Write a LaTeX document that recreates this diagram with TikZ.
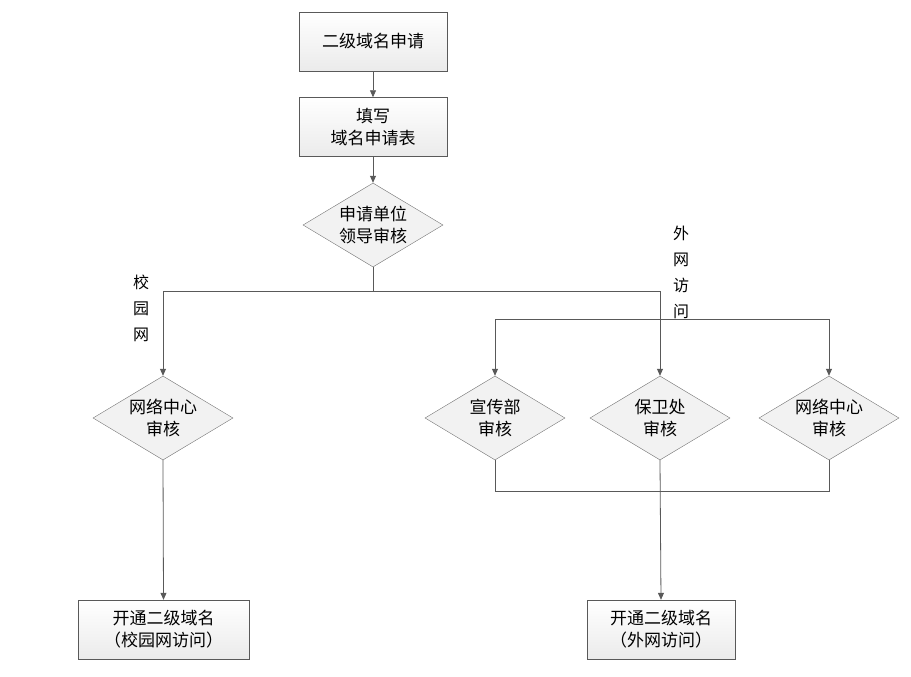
\documentclass[tikz,border=0pt]{standalone}
\usepackage{fontspec}
\setmainfont{Noto Sans CJK SC}
\usetikzlibrary{shapes.geometric,arrows.meta}
\begin{document}
\begin{tikzpicture}[x=1pt,y=-1pt,
 box/.style={draw=black!65,top color=white,bottom color=black!8,minimum width=148pt,minimum height=59pt,align=center,font=\fontsize{17}{22}\selectfont,inner sep=0pt},
 dia/.style={diamond,draw=black!55,fill=black!5,minimum width=140pt,minimum height=84pt,align=center,font=\fontsize{17}{22}\selectfont,inner sep=0pt,aspect=1.67},
 ln/.style={draw=black!65,line width=0.8pt},
 ar/.style={ln,-{Triangle[length=7pt,width=6pt]}},
 lab/.style={align=center,font=\fontsize{16}{26}\selectfont}]
\useasboundingbox (0,0) rectangle (911,677);
\node[box] (b1) at (373,41.5) {二级域名申请};
\node[box] (b2) at (373,127) {填写\\域名申请表};
\node[dia] (d1) at (373,225) {申请单位\\领导审核};
\node[dia] (dA) at (163,418) {网络中心\\审核};
\node[dia] (dB) at (495,418) {宣传部\\审核};
\node[dia] (dC) at (660,418) {保卫处\\审核};
\node[dia] (dD) at (829,418) {网络中心\\审核};
\node[box,minimum width=171pt] (e1) at (163.5,629.5) {开通二级域名\\（校园网访问）};
\node[box] (e2) at (661,629.5) {开通二级域名\\（外网访问）};
\coordinate (j1) at (373,291);
\coordinate (jl) at (163,291);
\coordinate (jr) at (660,291);
\coordinate (k1) at (495,319);
\coordinate (k2) at (829,319);
\coordinate (m1) at (495,491);
\coordinate (m2) at (829,491);
\draw[ar] (b1) -- (b2);
\draw[ar] (b2) -- (d1);
\draw[ln] (d1.south) -- (j1);
\draw[ar] (jl) -- (dA.north);
\draw[ar] (jr) -- (dC.north);
\draw[ln] (jl) -- (jr);
\draw[ln] (k1) -- (k2);
\draw[ar] (k1) -- (dB.north);
\draw[ar] (k2) -- (dD.north);
\draw[ln] (dB.south) -- (m1) -- (m2) -- (dD.south);
\draw[ar] (dC.south) -- (e2.north);
\draw[ar] (dA.south) -- (e1.north);
\node[lab] (l1) at (141,308) {校\\园\\网};
\node[lab] (l2) at (681,272) {外\\网\\访\\问};
\end{tikzpicture}
\end{document}
